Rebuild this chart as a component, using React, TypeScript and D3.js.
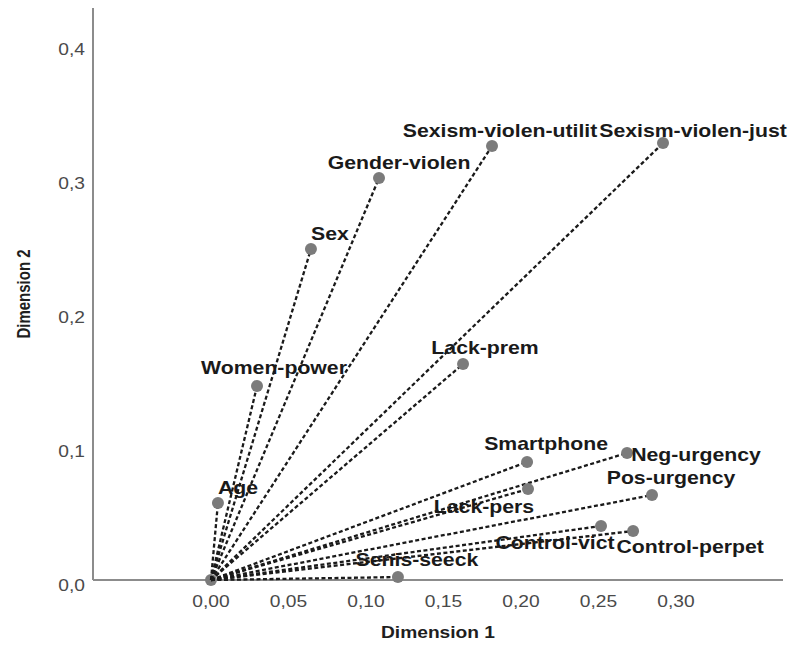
import React from "react";
import * as d3 from "d3";

// variable loadings
const variables = [
  "Age",
  "Women-power",
  "Sex",
  "Gender-violen",
  "Sexism-violen-utilit",
  "Sexism-violen-just",
  "Lack-prem",
  "Smartphone",
  "Lack-pers",
  "Neg-urgency",
  "Pos-urgency",
  "Control-vict",
  "Control-perpet",
  "Senis-seeck",
];
const dim1 = [0.0045, 0.0297, 0.0645, 0.1084, 0.1813, 0.2916, 0.1626, 0.2039, 0.2045, 0.2684, 0.2845, 0.2516, 0.2723, 0.1206];
const dim2 = [0.0575, 0.1448, 0.247, 0.3, 0.3239, 0.3261, 0.1612, 0.0881, 0.0679, 0.0948, 0.0634, 0.0403, 0.0366, 0.0022];

const xTicks = [0, 0.05, 0.1, 0.15, 0.2, 0.25, 0.3];
const yTicks = [0, 0.1, 0.2, 0.3, 0.4];
const xExtent = [-0.0761, 0.369];
const yExtent = [0, 0.4269];

// label placement around each point, in px
const labelOffsets: Record<string, [number, number]> = {
  Age: [20, -15],
  "Women-power": [17, -18],
  Sex: [19, -15],
  "Gender-violen": [20, -15],
  "Sexism-violen-utilit": [8, -15],
  "Sexism-violen-just": [30, -12],
  "Lack-prem": [22, -16],
  Smartphone: [19, -18],
  "Lack-pers": [-44, 18],
  "Neg-urgency": [69, 2],
  "Pos-urgency": [19, -17],
  "Control-vict": [-46, 17],
  "Control-perpet": [57, 16],
  "Senis-seeck": [19, -17],
};

const W = 798;
const H = 653;
const left = 93;
const right = 783;
const top = 8;
const bottom = 580;
const STRETCH = 1.18;

const fmt = (v: number, d: number) => v.toFixed(d).replace(".", ",");

export default function App() {
  const x = d3.scaleLinear().domain(xExtent).range([left, right]);
  const y = d3.scaleLinear().domain(yExtent).range([bottom, top]);
  const font = "'Liberation Sans', Arial, sans-serif";

  const points = variables.map((name, i) => ({ name, x: x(dim1[i]), y: y(dim2[i]) }));

  return (
    <svg
      width={W}
      height={H}
      style={{ position: "absolute", left: 0, top: 0, background: "#fff" }}
      fontFamily={font}
    >
      {/* axes */}
      <line x1={left} x2={left} y1={top} y2={bottom} stroke="#8c8c8c" strokeWidth={2} />
      <line x1={left} x2={right} y1={bottom} y2={bottom} stroke="#8c8c8c" strokeWidth={2} />

      {yTicks.map((t) => (
        <text
          key={"y" + t}
          transform={`translate(85,${y(t) + 6}) scale(1.2,1)`}
          textAnchor="end"
          dominantBaseline="central"
          fontSize={16}
          fill="#4a4a4a"
        >
          {fmt(t, 1)}
        </text>
      ))}
      {xTicks.map((t) => (
        <text
          key={"x" + t}
          transform={`translate(${x(t)},602) scale(1.2,1)`}
          textAnchor="middle"
          dominantBaseline="central"
          fontSize={16}
          fill="#4a4a4a"
        >
          {fmt(t, 2)}
        </text>
      ))}

      <text
        transform={`translate(${(left + right) / 2},633) scale(1.2,1)`}
        textAnchor="middle"
        dominantBaseline="central"
        fontSize={16}
        fontWeight="bold"
        fill="#1e1e1e"
      >
        Dimension 1
      </text>
      <text
        transform={`translate(24,${(top + bottom) / 2}) scale(1.25,1) rotate(-90)`}
        textAnchor="middle"
        dominantBaseline="central"
        fontSize={15}
        fontWeight="bold"
        fill="#1e1e1e"
      >
        Dimension 2
      </text>

      {/* origin marker */}
      <circle cx={x(0)} cy={y(0)} r={6} fill="#7b7b7b" />

      {/* loading vectors */}
      {points.map((p) => (
        <line
          key={"l" + p.name}
          x1={x(0)}
          y1={y(0)}
          x2={p.x}
          y2={p.y}
          stroke="#1a1a1a"
          strokeWidth={2.3}
          strokeDasharray="4 2.5"
        />
      ))}

      {points.map((p) => (
        <circle key={"c" + p.name} cx={p.x} cy={p.y} r={6} fill="#7b7b7b" />
      ))}

      {points.map((p) => {
        const [dx, dy] = labelOffsets[p.name] || [0, -15];
        return (
          <text
            key={"t" + p.name}
            transform={`translate(${p.x + dx},${p.y + dy}) scale(${STRETCH},1)`}
            textAnchor="middle"
            dominantBaseline="central"
            fontSize={18}
            fontWeight="bold"
            fill="#1a1a1a"
          >
            {p.name}
          </text>
        );
      })}
    </svg>
  );
}
